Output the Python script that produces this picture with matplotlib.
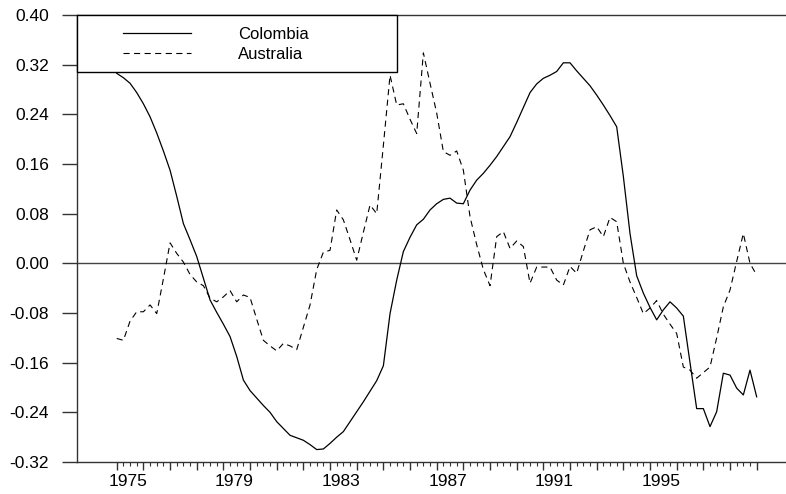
import numpy as np
import matplotlib
matplotlib.use("Agg")
import matplotlib.pyplot as plt
from matplotlib.patches import Rectangle
from matplotlib.ticker import FormatStrFormatter
import matplotlib.transforms as mtransforms

plt.rcParams['font.family'] = ['Liberation Sans', 'DejaVu Sans']
plt.rcParams['axes.unicode_minus'] = False

# quarterly observations, 1975Q1 .. 1999Q1
start_year = 1975
n_obs = 97

colombia = [0.306, 0.299, 0.290, 0.275, 0.257, 0.236, 0.210, 0.181, 0.150, 0.108,
            0.064, 0.038, 0.011, -0.024, -0.059, -0.079, -0.098, -0.118, -0.150, -0.188,
            -0.205, -0.217, -0.229, -0.240, -0.255, -0.266, -0.277, -0.281, -0.285, -0.292,
            -0.300, -0.299, -0.290, -0.280, -0.271, -0.255, -0.239, -0.223, -0.206, -0.189,
            -0.165, -0.081, -0.027, 0.019, 0.042, 0.062, 0.071, 0.086, 0.096, 0.103,
            0.105, 0.097, 0.096, 0.118, 0.134, 0.145, 0.158, 0.172, 0.188, 0.204,
            0.227, 0.251, 0.275, 0.289, 0.298, 0.303, 0.309, 0.323, 0.323, 0.310,
            0.298, 0.286, 0.271, 0.255, 0.238, 0.220, 0.140, 0.048, -0.020, -0.048,
            -0.071, -0.091, -0.075, -0.062, -0.072, -0.085, -0.160, -0.234, -0.234, -0.263,
            -0.239, -0.177, -0.180, -0.201, -0.212, -0.172, -0.215]

australia = [-0.121, -0.124, -0.093, -0.078, -0.078, -0.067, -0.081, -0.025, 0.033, 0.016,
             0.002, -0.018, -0.030, -0.036, -0.056, -0.062, -0.054, -0.044, -0.062, -0.051,
             -0.055, -0.090, -0.124, -0.133, -0.141, -0.129, -0.133, -0.139, -0.103, -0.067,
             -0.010, 0.018, 0.021, 0.086, 0.070, 0.038, 0.005, 0.050, 0.094, 0.080,
             0.190, 0.303, 0.255, 0.257, 0.232, 0.209, 0.339, 0.290, 0.242, 0.180,
             0.174, 0.181, 0.150, 0.075, 0.030, -0.010, -0.036, 0.043, 0.051, 0.024,
             0.036, 0.027, -0.032, -0.006, -0.006, -0.006, -0.027, -0.035, -0.005, -0.016,
             0.020, 0.054, 0.059, 0.043, 0.074, 0.067, 0.000, -0.030, -0.055, -0.081,
             -0.072, -0.060, -0.082, -0.098, -0.113, -0.167, -0.172, -0.185, -0.176, -0.167,
             -0.120, -0.070, -0.043, 0.003, 0.048, 0.000, -0.019]

y_ticks = [-0.32, -0.24, -0.16, -0.08, 0.00, 0.08, 0.16, 0.24, 0.32, 0.40]
year_ticks = list(range(1975, 2000))
year_labels = ['1975', '1979', '1983', '1987', '1991', '1995']

t = start_year + np.arange(n_obs) / 4.0

fig = plt.figure(figsize=(7.86, 4.94), dpi=100)
ax = fig.add_axes([77 / 786, 32 / 494, 709 / 786, 447 / 494])

ax.plot(t, colombia, color='black', lw=0.9, label='Colombia')
ax.plot(t, australia, color='black', lw=0.8, ls=(0, (5.5, 4)), label='Australia')
ax.axhline(0, color='#444444', lw=1.0, zorder=1)

ax.set_xlim(1973.51, 2000.1)
ax.set_ylim(-0.32, 0.40)

ax.set_yticks(y_ticks)
ax.yaxis.set_major_formatter(FormatStrFormatter('%.2f'))
ax.tick_params(axis='y', direction='out', length=10.8, width=1.0, color='#333333',
               pad=9.5, labelsize=12.5)

ax.set_xticks(year_ticks)
ax.set_xticklabels([str(y) if str(y) in year_labels else '' for y in year_ticks])
ax.set_xticks(np.arange(1975, 1999.01, 0.25), minor=True)
ax.tick_params(axis='x', which='major', direction='out', length=5.8, width=1.0,
               color='#333333', pad=2.5, labelsize=12.5)
ax.tick_params(axis='x', which='minor', direction='out', length=3.2, width=0.8,
               color='#333333')
# year labels sit a little inside the year they mark
shift = mtransforms.ScaledTranslation(0.11, 0, fig.dpi_scale_trans)
for lab in ax.get_xticklabels():
    lab.set_transform(lab.get_transform() + shift)

ax.spines['right'].set_visible(False)
for s in ['left', 'top', 'bottom']:
    ax.spines[s].set_color('#333333')
    ax.spines[s].set_linewidth(1.0)

# legend box
ax.add_patch(Rectangle((0, 1 - 0.1275), 0.4513, 0.1275, transform=ax.transAxes,
                       facecolor='white', edgecolor='black', lw=1.0, zorder=4,
                       clip_on=False))
leg = ax.legend(loc='upper left', bbox_to_anchor=(0.0649, 0.974), frameon=False,
                borderpad=0, borderaxespad=0, handlelength=4.1, handletextpad=2.8,
                labelspacing=0.3, fontsize=12)
leg.set_zorder(5)

fig.savefig('out.png', dpi=100)
